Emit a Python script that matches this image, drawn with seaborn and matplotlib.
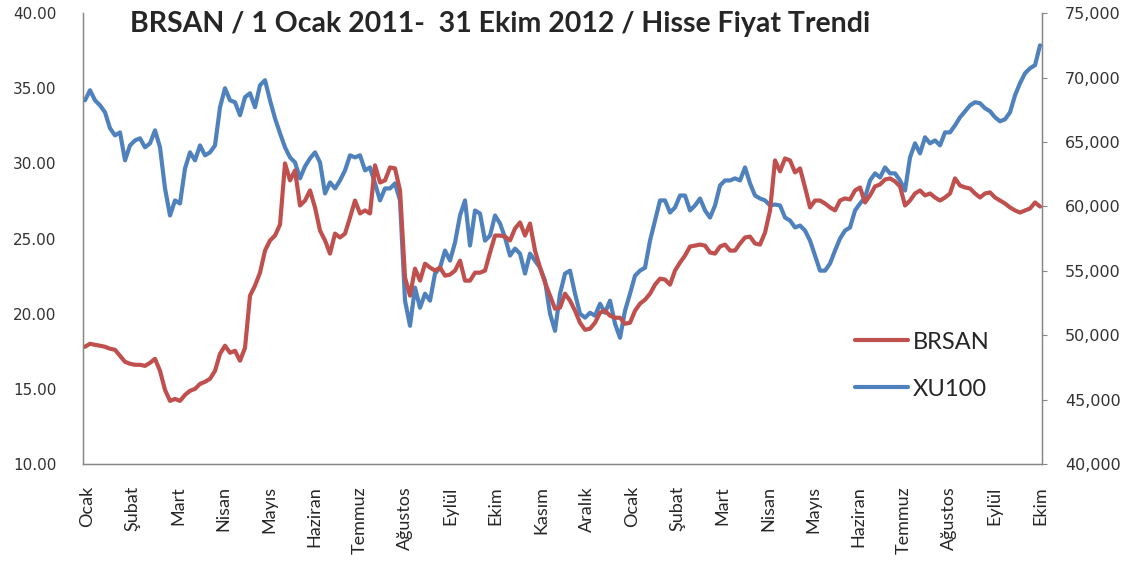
import numpy as np
import seaborn as sns
import matplotlib.pyplot as plt
from matplotlib.ticker import FormatStrFormatter, StrMethodFormatter

# haftalik okumalar, 1 Ocak 2011 - 31 Ekim 2012
brsan = [
    17.80, 18.00, 17.93, 17.87, 17.80, 17.67, 17.60, 17.20, 16.80, 16.67,
    16.60, 16.60, 16.53, 16.73, 17.00, 16.20, 14.93, 14.20, 14.33, 14.20,
    14.60, 14.87, 15.00, 15.33, 15.47, 15.67, 16.20, 17.33, 17.87, 17.40,
    17.53, 16.87, 17.73, 21.20, 21.87, 22.73, 24.20, 24.87, 25.20, 25.93,
    30.00, 28.87, 29.53, 27.20, 27.53, 28.20, 27.07, 25.53, 24.87, 24.00,
    25.33, 25.07, 25.33, 26.40, 27.53, 26.67, 26.87, 26.67, 29.87, 28.73,
    28.87, 29.73, 29.67, 28.20, 22.40, 21.20, 23.00, 22.20, 23.33, 23.07,
    22.87, 23.07, 22.53, 22.60, 22.87, 23.53, 22.20, 22.20, 22.73, 22.73,
    22.87, 24.07, 25.20, 25.20, 25.13, 24.87, 25.67, 26.07, 25.20, 26.00,
    24.20, 23.07, 22.07, 21.20, 20.33, 20.40, 21.33, 20.87, 20.20, 19.40,
    18.93, 19.00, 19.40, 20.07, 20.20, 19.87, 19.73, 19.73, 19.33, 19.40,
    20.20, 20.67, 20.93, 21.33, 21.93, 22.33, 22.27, 21.93, 22.87, 23.40,
    23.87, 24.47, 24.53, 24.60, 24.53, 24.07, 24.00, 24.47, 24.60, 24.20,
    24.20, 24.67, 25.07, 25.13, 24.67, 24.60, 25.40, 26.87, 30.20, 29.47,
    30.33, 30.20, 29.40, 29.67, 28.40, 27.07, 27.53, 27.53, 27.33, 27.07,
    26.87, 27.53, 27.67, 27.60, 28.20, 28.40, 27.40, 27.87, 28.47, 28.60,
    28.93, 29.00, 28.80, 28.47, 27.20, 27.53, 28.00, 28.20, 27.87, 28.00,
    27.73, 27.53, 27.73, 28.00, 29.00, 28.53, 28.40, 28.33, 28.00, 27.73,
    28.00, 28.07, 27.73, 27.53, 27.33, 27.07, 26.87, 26.73, 26.87, 27.00,
    27.40, 27.13,
]

xu100 = [
    68230, 69010, 68230, 67840, 67300, 66060, 65510, 65740, 63570, 64730,
    65120, 65280, 64580, 64890, 65900, 64580, 61390, 59290, 60460, 60220,
    62940, 64190, 63570, 64730, 63960, 64190, 64730, 67690, 69170, 68230,
    68080, 67070, 68470, 68780, 67690, 69400, 69790, 68230, 66830, 65670,
    64580, 63800, 63410, 62170, 63100, 63720, 64190, 63410, 61000, 61860,
    61390, 62010, 62790, 63960, 63800, 63960, 62790, 63020, 61780, 60460,
    61390, 61390, 61780, 60460, 52680, 50730, 53690, 52130, 53220, 52680,
    54780, 55240, 56570, 55790, 57190, 59290, 60460, 56960, 59680, 59440,
    57340, 57730, 59290, 58670, 57580, 56180, 56720, 56330, 54780, 56330,
    55790, 55240, 54230, 51670, 50340, 53220, 54780, 55010, 53220, 51670,
    51360, 51740, 51510, 52440, 51740, 52680, 50890, 49800, 51900, 53220,
    54620, 55010, 55240, 57340, 58900, 60460, 60460, 59520, 59910, 60840,
    60840, 59680, 60070, 60610, 59680, 59130, 60070, 61620, 62010, 62010,
    62170, 62010, 63020, 61780, 60840, 60610, 60460, 60070, 60140, 60070,
    59130, 58900, 58360, 58510, 58120, 57340, 56180, 55010, 55010, 55560,
    56570, 57500, 58120, 58360, 59680, 60220, 60690, 62010, 62560, 62240,
    63020, 62560, 62560, 62010, 61230, 63800, 64890, 64110, 65360, 64890,
    65120, 64730, 65740, 65740, 66290, 66910, 67380, 67840, 68080, 68000,
    67610, 67380, 66910, 66600, 66760, 67300, 68620, 69560, 70330, 70720,
    70960, 72500,
]

aylar = ["Ocak", "Şubat", "Mart", "Nisan", "Mayıs", "Haziran", "Temmuz",
         "Ağustos", "Eylül", "Ekim", "Kasım", "Aralık",
         "Ocak", "Şubat", "Mart", "Nisan", "Mayıs", "Haziran", "Temmuz",
         "Ağustos", "Eylül", "Ekim"]

sns.set_style("white")
plt.rcParams['font.family'] = ['DejaVu Sans']

red = "#C0504D"
blue = "#4F81BD"
grey = "#868686"

fig = plt.figure(figsize=(11.34, 5.69), dpi=100)
ax = fig.add_axes([0.0732, 0.1845, 0.8457, 0.7925])
ax2 = ax.twinx()

t1 = np.arange(len(brsan))
t2 = np.arange(len(xu100))
sns.lineplot(x=t2, y=xu100, ax=ax2, color=blue, linewidth=3.0, label="XU100", legend=False)
sns.lineplot(x=t1, y=brsan, ax=ax, color=red, linewidth=3.0, label="BRSAN", legend=False)

# kirmizi seri mavinin ustunde
ax.set_zorder(ax2.get_zorder() + 1)
ax.patch.set_visible(False)

ax.set_xlim(-0.4, len(brsan) - 0.6)
ax.set_ylim(10, 40)
ax2.set_ylim(40000, 75000)
ax.set_yticks(np.arange(10, 41, 5))
ax2.set_yticks(np.arange(40000, 75001, 5000))
ax.yaxis.set_major_formatter(FormatStrFormatter('%.2f'))
ax2.yaxis.set_major_formatter(StrMethodFormatter('{x:,.0f}'))

ax.set_xticks(np.linspace(0.5, len(brsan) - 1, len(aylar)))
ax.set_xticklabels(aylar, rotation=90, fontsize=13, family='Lato')

ax.tick_params(axis='y', length=0, pad=19, labelsize=11, labelcolor="#333333")
ax.tick_params(axis='x', length=0, pad=16)
ax2.tick_params(axis='y', length=3.6, width=0.8, color=grey, pad=13,
                labelsize=11.5, labelcolor="#333333")

for a in (ax, ax2):
    a.spines['top'].set_visible(False)
    for s in ('left', 'bottom', 'right'):
        a.spines[s].set_color(grey)
        a.spines[s].set_linewidth(0.9)
ax.set_xlabel("")
ax.set_ylabel("")
ax2.set_ylabel("")

fig.text(0.441, 0.958, "BRSAN / 1 Ocak 2011-  31 Ekim 2012 / Hisse Fiyat Trendi",
         ha='center', va='center', fontsize=20.5, fontweight='bold', family='Lato')

h1, l1 = ax.get_legend_handles_labels()
h2, l2 = ax2.get_legend_handles_labels()
ax.legend(h1 + h2, l1 + l2, loc='center left', bbox_to_anchor=(0.793, 0.218),
          frameon=False, borderpad=0, handlelength=2.25, handletextpad=0.2,
          labelspacing=1.1, prop={'family': 'Lato', 'size': 17})

fig.savefig("out.png", dpi=100)
